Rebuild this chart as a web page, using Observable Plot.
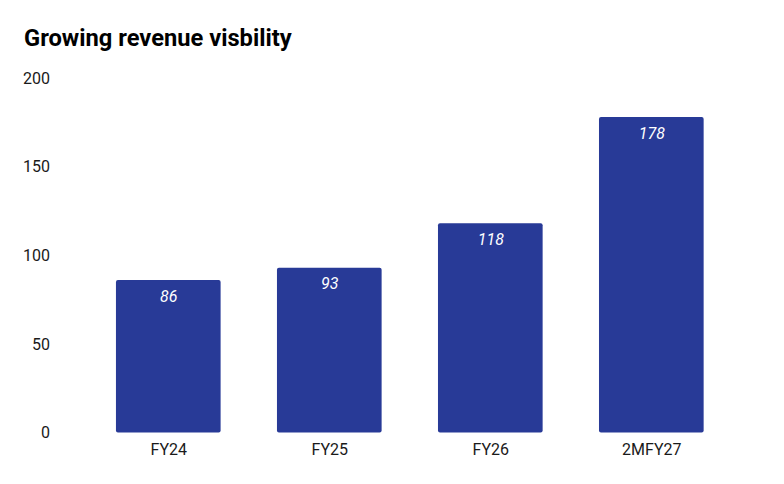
<!DOCTYPE html>
<html>
<head>
<meta charset="utf-8">
<script src="https://cdn.jsdelivr.net/npm/d3@7"></script>
<script src="https://cdn.jsdelivr.net/npm/@observablehq/plot@0.6"></script>
<style>
  html, body { margin: 0; padding: 0; background: #fff; }
  body { width: 784px; height: 484px; overflow: hidden; font-family: Roboto, sans-serif; }
  #title { height: 60px; box-sizing: border-box; padding: 24px 0 0 24px; font-size: 23.7px; font-weight: 700; color: #000; line-height: 28px; }
  #chart svg { display: block; }
</style>
</head>
<body>
<div id="title">Growing revenue visbility</div>
<div id="chart"></div>
<script>
const categories = ["FY24", "FY25", "FY26", "2MFY27"];
const revenue = [86, 93, 118, 178];
const yTicks = [0, 50, 100, 150, 200];

const data = categories.map((c, i) => ({category: c, value: revenue[i]}));

const chart = Plot.plot({
  width: 784,
  height: 424,
  marginTop: 18,
  marginBottom: 51.5,
  marginLeft: 59.6,
  marginRight: 24,
  style: {fontFamily: "Roboto, sans-serif", fontSize: "16px", color: "#1a1a1a", background: "#fff"},
  x: {domain: categories, padding: 0.35, round: false, label: null, tickSize: 0, tickPadding: 11},
  y: {domain: [0, 200], ticks: yTicks, label: null, tickSize: 0, tickPadding: 10},
  marks: [
    Plot.barY(data, {x: "category", y: "value", fill: "#283a97", rx: 2}),
    Plot.text(data, {x: "category", y: "value", text: d => String(d.value), dy: 16, fill: "#fff", fontStyle: "italic", fontSize: 16})
  ]
});
document.getElementById("chart").appendChild(chart);
</script>
</body>
</html>
